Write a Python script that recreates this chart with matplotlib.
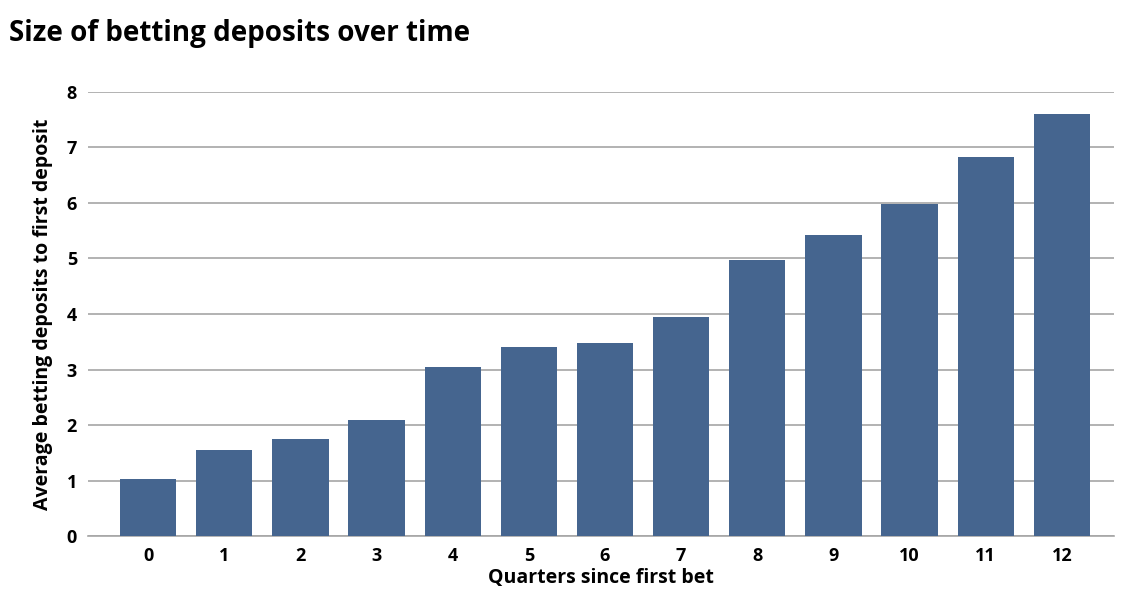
import matplotlib
matplotlib.use("Agg")
import matplotlib.pyplot as plt

quarters = [str(i) for i in range(13)]
values = [1.03, 1.55, 1.75, 2.1, 3.04, 3.4, 3.47, 3.94, 4.98, 5.42, 5.98, 6.82, 7.6]
yticks = [0, 1, 2, 3, 4, 5, 6, 7, 8]

plt.rcParams['font.family'] = ['Open Sans', 'DejaVu Sans']
fig = plt.figure(figsize=(11.34, 6.08), dpi=100)
ax = fig.add_axes([0.0776, 0.118, 0.9044, 0.731])
x = list(range(len(values)))
ax.bar(x, values, width=0.74, color='#45658f', zorder=3)
ax.set_xlim(-0.79, 12.68)
ax.set_ylim(0, 8)
ax.set_yticks(yticks)
ax.set_xticks(x)
ax.set_xticklabels(quarters)
ax.grid(axis='y', color='#a6a6a6', linewidth=1.2, zorder=0)
for s in ['left', 'right', 'top']:
    ax.spines[s].set_visible(False)
ax.spines['bottom'].set_color('#a6a6a6')
ax.spines['bottom'].set_linewidth(1.2)
ax.tick_params(length=0, labelsize=13, pad=8)
for lab in ax.get_xticklabels() + ax.get_yticklabels():
    lab.set_fontweight('bold')
ax.set_xlabel('Quarters since first bet', fontsize=14, fontweight='bold', labelpad=2)
ax.set_ylabel('Average betting deposits to first deposit', fontsize=14, fontweight='bold', labelpad=10)
fig.text(0.008, 0.945, 'Size of betting deposits over time', fontsize=20, fontweight='bold', va='center')
fig.savefig('out.png', dpi=100)
